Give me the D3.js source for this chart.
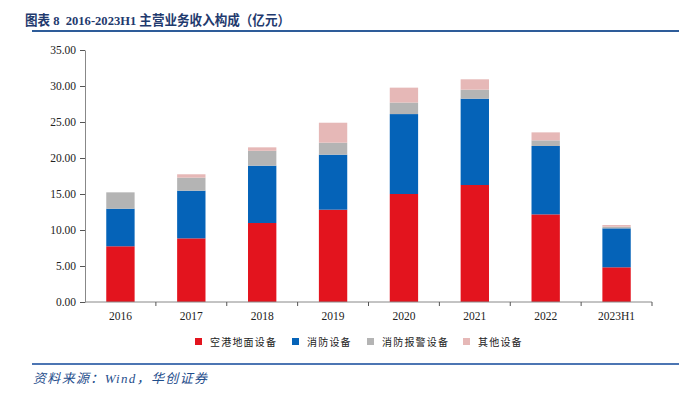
<!DOCTYPE html>
<html>
<head>
<meta charset="utf-8">
<script src="https://cdn.jsdelivr.net/npm/d3@7"></script>
<style>
  body { margin: 0; background: #fff; }
  svg { display: block; }
</style>
</head>
<body>
<svg id="chart" width="689" height="397"></svg>
<script>
// chart data
const categories = ['2016', '2017', '2018', '2019', '2020', '2021', '2022', '2023H1'];
const seriesNames = ['空港地面设备', '消防设备', '消防报警设备', '其他设备'];
const groundEquip = [7.74, 8.84, 10.97, 12.82, 15.00, 16.25, 12.17, 4.82];
const fireEquip = [5.22, 6.62, 7.96, 7.64, 11.10, 11.99, 9.50, 5.41];
const alarmEquip = [2.27, 1.81, 2.07, 1.67, 1.60, 1.25, 0.78, 0.23];
const otherEquip = [0.00, 0.47, 0.48, 2.77, 2.07, 1.44, 1.11, 0.23];
const yTicks = [0, 5, 10, 15, 20, 25, 30, 35];
const colors = ['#E3141E', '#0563B8', '#B4B4B4', '#E6B8B7'];

const svg = d3.select('#chart');
const margin = { left: 85, right: 37, top: 50, bottom: 95 };
const width = 689, height = 397;

// title + rules
svg.append('text')
  .attr('x', 25).attr('y', 25)
  .attr('fill', '#1F3A6E')
  .attr('textLength', 265)
  .attr('lengthAdjust', 'spacingAndGlyphs')
  .style('font-family', '"Liberation Serif", "Noto Sans CJK SC", serif')
  .style('font-weight', 'bold')
  .style('font-size', '13.5px')
  .style('white-space', 'pre')
  .text('图表 8  2016-2023H1 主营业务收入构成（亿元）');
svg.append('line')
  .attr('x1', 32).attr('x2', 679).attr('y1', 31).attr('y2', 31)
  .attr('stroke', '#2E5C99').attr('stroke-width', 2);
svg.append('line')
  .attr('x1', 32).attr('x2', 679).attr('y1', 364).attr('y2', 364)
  .attr('stroke', '#10479A').attr('stroke-width', 1.5);
svg.append('text')
  .attr('x', 33).attr('y', 383)
  .attr('fill', '#1F4E8C')
  .attr('textLength', 174)
  .attr('lengthAdjust', 'spacing')
  .style('font-family', '"Liberation Serif", "Noto Sans CJK SC", serif')
  .style('font-style', 'italic')
  .style('font-size', '13px')
  .text('资料来源：Wind，华创证券');

const x = d3.scaleBand()
  .domain(categories)
  .range([margin.left, width - margin.right])
  .paddingInner(0.6).paddingOuter(0.3);

const y = d3.scaleLinear()
  .domain([0, 35])
  .range([height - margin.bottom, margin.top]);

const rows = categories.map((c, i) => ({
  cat: c,
  s0: groundEquip[i], s1: fireEquip[i], s2: alarmEquip[i], s3: otherEquip[i]
}));
const stacked = d3.stack().keys(['s0', 's1', 's2', 's3'])(rows);

const g = svg.append('g');
g.selectAll('.series')
  .data(stacked)
  .enter()
  .append('g')
  .attr('class', 'series')
  .attr('fill', (d, i) => colors[i])
  .selectAll('rect')
  .data(d => d)
  .enter()
  .append('rect')
  .attr('x', d => x(d.data.cat))
  .attr('width', x.bandwidth())
  .attr('y', d => y(d[1]))
  .attr('height', d => Math.max(0, y(d[0]) - y(d[1])));

// y axis
const yAxis = g.append('g')
  .attr('transform', `translate(${margin.left},0)`)
  .call(d3.axisLeft(y).tickValues(yTicks).tickFormat(d3.format('.2f')).tickSize(5).tickSizeOuter(0));
yAxis.select('.domain').attr('stroke', '#888');
yAxis.selectAll('.tick line').attr('stroke', '#555');
yAxis.selectAll('text')
  .attr('x', -9)
  .attr('fill', '#222')
  .style('font-family', '"Liberation Serif", serif')
  .style('font-size', '11.5px');

// x axis, ticks between bands
const xAxisG = g.append('g')
  .attr('transform', `translate(0,${y(0)})`);
xAxisG.append('line')
  .attr('x1', margin.left).attr('x2', width - margin.right)
  .attr('stroke', '#888');
const bounds = d3.range(categories.length + 1).map(i => margin.left + i * (width - margin.left - margin.right) / categories.length);
xAxisG.selectAll('.xt')
  .data(bounds.slice(1))
  .enter()
  .append('line')
  .attr('x1', d => d).attr('x2', d => d)
  .attr('y1', 0).attr('y2', 4)
  .attr('stroke', '#555');
xAxisG.selectAll('.xl')
  .data(categories)
  .enter()
  .append('text')
  .attr('x', d => x(d) + x.bandwidth() / 2)
  .attr('y', 18)
  .attr('text-anchor', 'middle')
  .attr('fill', '#222')
  .style('font-family', '"Liberation Serif", serif')
  .style('font-size', '11.5px')
  .text(d => d);

// legend
const legendX = [195, 292, 367, 463];
const legend = svg.selectAll('.legend')
  .data(seriesNames)
  .enter()
  .append('g')
  .attr('class', 'legend')
  .attr('transform', (d, i) => `translate(${legendX[i]},342)`);
legend.append('rect')
  .attr('x', 0).attr('y', -4)
  .attr('width', 7).attr('height', 7)
  .attr('fill', (d, i) => colors[i]);
legend.append('text')
  .attr('x', 15).attr('y', 4)
  .attr('fill', '#222')
  .style('font-family', '"Noto Sans CJK SC", sans-serif')
  .style('font-size', '10px')
  .style('letter-spacing', '1.2px')
  .text(d => d);
</script>
</body>
</html>
